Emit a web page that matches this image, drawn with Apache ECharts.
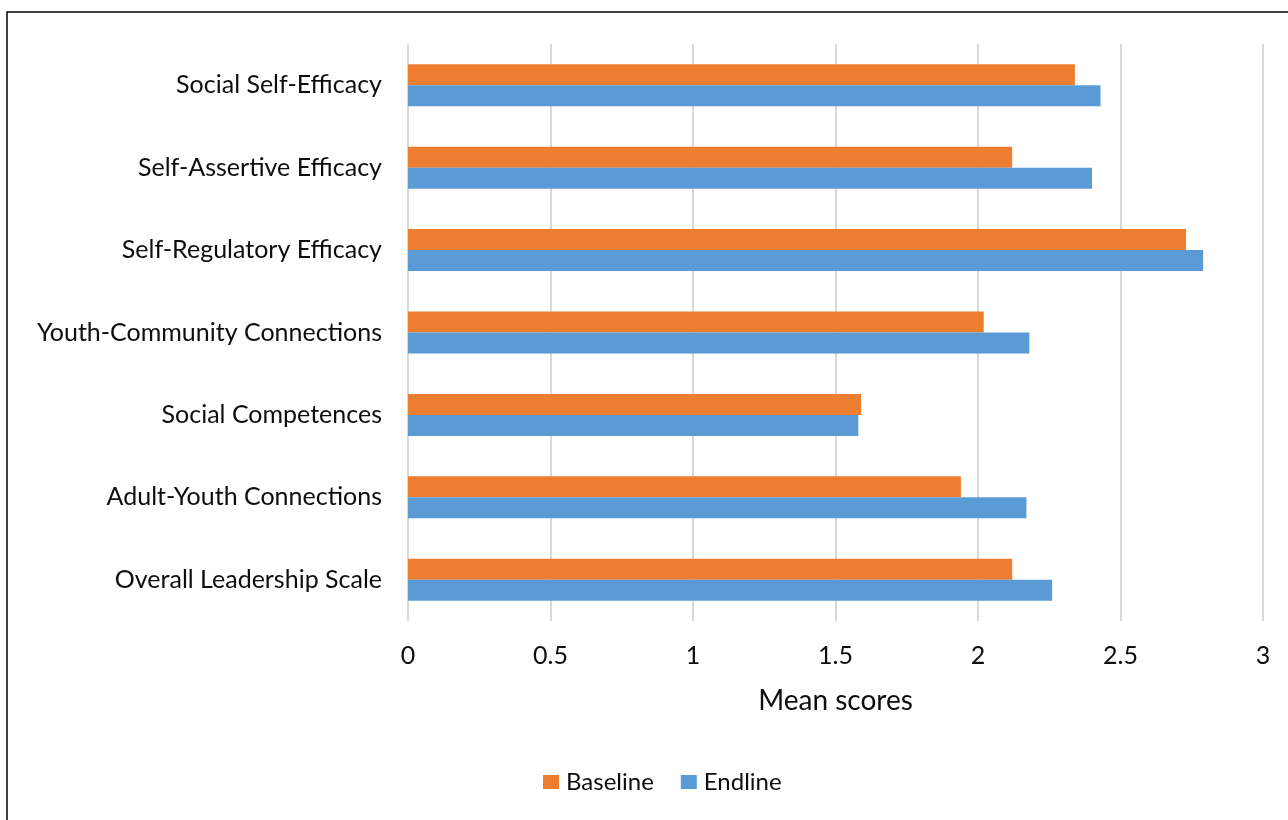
<!DOCTYPE html>
<html>
<head>
<meta charset="utf-8">
<script src="https://cdn.jsdelivr.net/npm/echarts@6/dist/echarts.min.js"></script>
<style>
html,body{margin:0;padding:0;background:#fff;}
#chart{width:1288px;height:820px;}
</style>
</head>
<body>
<div id="chart"></div>
<script>
var categories = [
  "Social Self-Efficacy",
  "Self-Assertive Efficacy",
  "Self-Regulatory Efficacy",
  "Youth-Community Connections",
  "Social Competences",
  "Adult-Youth Connections",
  "Overall Leadership Scale"
];
var baseline = [2.34, 2.12, 2.73, 2.02, 1.59, 1.94, 2.12];
var endline = [2.43, 2.40, 2.79, 2.18, 1.58, 2.17, 2.26];
var xTicks = { min: 0, max: 3, interval: 0.5 };
var seriesNames = ["Baseline", "Endline"];

var FONT = "Lato";
var TEXT = '#0d0d0d';
var chart = echarts.init(document.getElementById('chart'), null, {renderer: 'canvas'});
chart.setOption({
  animation: false,
  backgroundColor: '#fff',
  textStyle: { fontFamily: FONT },
  graphic: [{
    type: 'rect',
    shape: { x: 7, y: 12, width: 1320, height: 860 },
    style: { fill: 'none', stroke: '#000', lineWidth: 1.5 },
    silent: true
  }],
  grid: { left: 408, right: 25, top: 44, bottom: 199, containLabel: false },
  legend: {
    data: seriesNames,
    left: 538,
    top: 765,
    itemWidth: 16,
    itemHeight: 14,
    itemGap: 27,
    icon: 'rect',
    textStyle: { fontFamily: FONT, fontSize: 24, color: TEXT, padding: [0, 0, 0, 2] }
  },
  xAxis: {
    type: 'value',
    min: xTicks.min,
    max: xTicks.max,
    interval: xTicks.interval,
    name: 'Mean scores',
    nameLocation: 'middle',
    nameGap: 66,
    nameTextStyle: { fontFamily: FONT, fontSize: 28, color: TEXT },
    axisLine: { show: false },
    axisTick: { show: false },
    axisLabel: { fontFamily: FONT, fontSize: 25, color: TEXT, margin: 22 },
    splitLine: { show: true, lineStyle: { color: '#d9d9d9', width: 2 } }
  },
  yAxis: {
    type: 'category',
    data: categories,
    inverse: true,
    axisLine: { show: false },
    axisTick: { show: false },
    axisLabel: { fontFamily: FONT, fontSize: 25, color: TEXT, margin: 26 }
  },
  series: [
    {
      name: seriesNames[0], type: 'bar', data: baseline,
      itemStyle: { color: '#ED7D31' },
      barWidth: 21, barGap: '0%'
    },
    {
      name: seriesNames[1], type: 'bar', data: endline,
      itemStyle: { color: '#5B9BD5' },
      barWidth: 21, barGap: '0%'
    }
  ]
});
</script>
</body>
</html>
